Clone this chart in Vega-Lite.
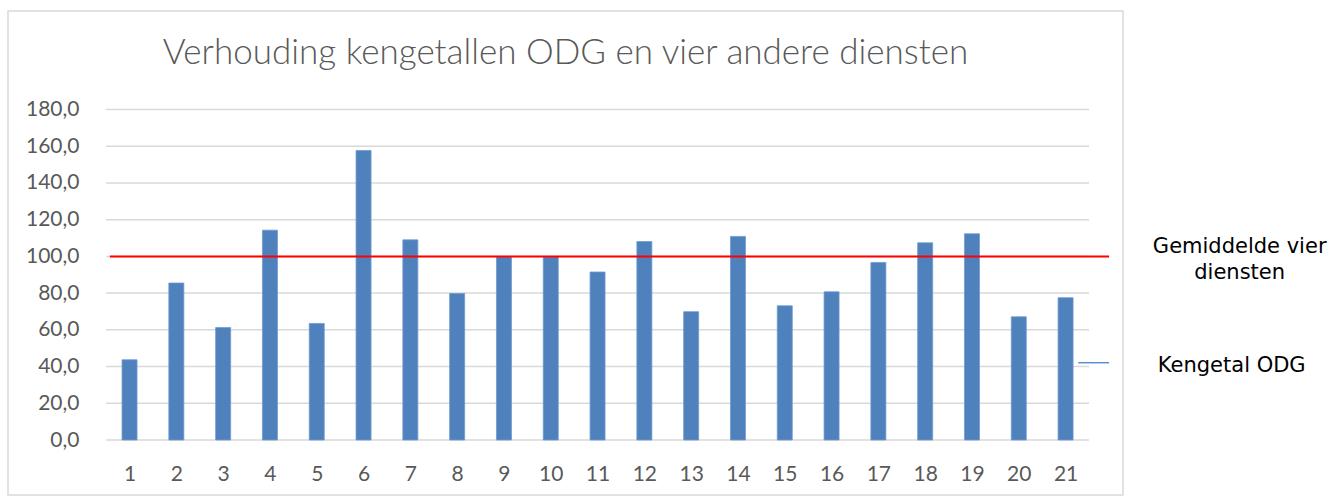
{
  "$schema": "https://vega.github.io/schema/vega-lite/v6.json",
  "autosize": "none",
  "padding": {"left": 8, "top": 11, "right": 215, "bottom": 2},
  "width": 1115,
  "height": 484,
  "background": "white",
  "title": {
    "text": "Verhouding kengetallen ODG en vier andere diensten",
    "font": "Lato",
    "fontSize": 35,
    "fontWeight": 300,
    "color": "#595959",
    "anchor": "middle",
    "baseline": "alphabetic",
    "offset": -88
  },
  "config": {
    "view": {"stroke": "#d9d9d9", "strokeWidth": 1.5},
    "axis": {"labelFont": "Lato", "labelFontSize": 21, "labelColor": "#595959", "domain": false, "ticks": false, "grid": false}
  },
  "datasets": {
    "bars": [
      {"n": 1, "kengetal": 43.7},
      {"n": 2, "kengetal": 85.5},
      {"n": 3, "kengetal": 61.3},
      {"n": 4, "kengetal": 114.3},
      {"n": 5, "kengetal": 63.5},
      {"n": 6, "kengetal": 157.7},
      {"n": 7, "kengetal": 109.0},
      {"n": 8, "kengetal": 79.8},
      {"n": 9, "kengetal": 99.8},
      {"n": 10, "kengetal": 99.8},
      {"n": 11, "kengetal": 91.5},
      {"n": 12, "kengetal": 108.1},
      {"n": 13, "kengetal": 69.9},
      {"n": 14, "kengetal": 110.9},
      {"n": 15, "kengetal": 73.1},
      {"n": 16, "kengetal": 80.7},
      {"n": 17, "kengetal": 96.7},
      {"n": 18, "kengetal": 107.4},
      {"n": 19, "kengetal": 112.3},
      {"n": 20, "kengetal": 67.1},
      {"n": 21, "kengetal": 77.5}
    ],
    "ticks": [{"t": 0}, {"t": 20}, {"t": 40}, {"t": 60}, {"t": 80}, {"t": 100}, {"t": 120}, {"t": 140}, {"t": 160}, {"t": 180}],
    "one": [{"k": 1}]
  },
  "layer": [
    {
      "data": {"name": "ticks"},
      "mark": {"type": "rule", "color": "#d9d9d9", "strokeWidth": 1.5},
      "encoding": {
        "y": {"field": "t", "type": "quantitative"},
        "x": {"datum": 0.5, "type": "quantitative"},
        "x2": {"datum": 21.5}
      }
    },
    {
      "data": {"name": "bars"},
      "mark": {"type": "bar", "width": 15, "color": "#4f81bd", "stroke": "#6f9bd1", "strokeWidth": 0.8},
      "encoding": {
        "x": {
          "field": "n", "type": "quantitative",
          "scale": {"domain": [-1.49, 22.12], "nice": false, "zero": false},
          "axis": {"title": null, "values": [1,2,3,4,5,6,7,8,9,10,11,12,13,14,15,16,17,18,19,20,21], "format": "d", "offset": -33, "labelPadding": 1, "labelBaseline": "top"}
        },
        "y": {
          "field": "kengetal", "type": "quantitative",
          "scale": {"domain": [-29.95, 233.65], "nice": false},
          "axis": {"title": null, "values": [0,20,40,60,80,100,120,140,160,180], "labelExpr": "replace(format(datum.value, '.1f'), '.', ',')", "offset": -73, "labelPadding": 2}
        }
      }
    },
    {
      "data": {"name": "one"},
      "mark": {"type": "rule", "color": "#ff0000", "strokeWidth": 2},
      "encoding": {
        "y": {"datum": 100, "type": "quantitative"},
        "x": {"datum": 0.58, "type": "quantitative"},
        "x2": {"datum": 21.93}
      }
    },
    {
      "data": {"name": "one"},
      "mark": {"type": "rule", "color": "#5b8fd0", "strokeWidth": 1.5},
      "encoding": {
        "y": {"datum": 42.1, "type": "quantitative"},
        "x": {"datum": 21.27, "type": "quantitative"},
        "x2": {"datum": 21.93}
      }
    },
    {
      "data": {"name": "one"},
      "mark": {"type": "text", "font": "DejaVu Sans", "fontSize": 21, "color": "#000000", "align": "center", "baseline": "alphabetic", "lineBreak": "\n", "lineHeight": 26},
      "encoding": {
        "x": {"datum": 24.72, "type": "quantitative"},
        "y": {"datum": 101.85, "type": "quantitative"},
        "text": {"value": "Gemiddelde vier\ndiensten"}
      }
    },
    {
      "data": {"name": "one"},
      "mark": {"type": "text", "font": "DejaVu Sans", "fontSize": 21, "color": "#000000", "align": "center", "baseline": "alphabetic"},
      "encoding": {
        "x": {"datum": 24.55, "type": "quantitative"},
        "y": {"datum": 37.2, "type": "quantitative"},
        "text": {"value": "Kengetal ODG"}
      }
    }
  ]
}
